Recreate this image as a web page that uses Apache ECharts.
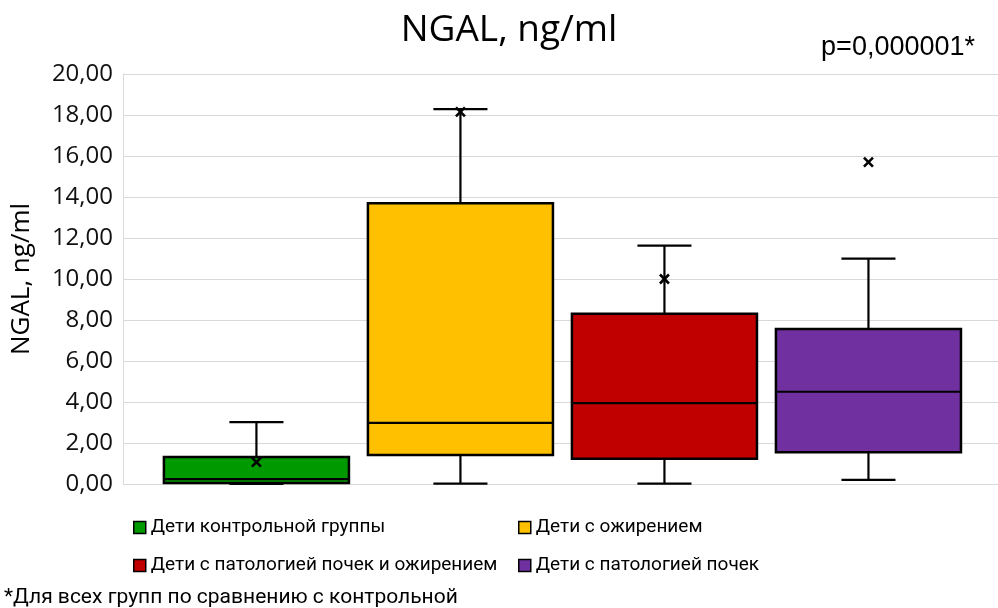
<!DOCTYPE html>
<html>
<head>
<meta charset="utf-8">
<script src="https://cdn.jsdelivr.net/npm/echarts@6/dist/echarts.min.js"></script>
<style>html,body{margin:0;padding:0;background:#fff;}#c{width:998px;height:608px;}</style>
</head>
<body>
<div id="c"></div>
<script>
// ---- data ----
var categories = ['Дети контрольной группы', 'Дети с ожирением', 'Дети с патологией почек и ожирением', 'Дети с патологией почек'];
var mins    = [0.00, 0.02, 0.02, 0.20];
var q1s     = [0.05, 1.41, 1.23, 1.55];
var medians = [0.24, 2.98, 3.95, 4.50];
var q3s     = [1.32, 13.70, 8.31, 7.56];
var maxs    = [3.02, 18.29, 11.63, 10.99];
var means   = [1.07, 18.15, 10.00, 15.70];
var colors  = ['#009900', '#FFC000', '#C00000', '#7030A0'];
var yTicks  = [0, 2, 4, 6, 8, 10, 12, 14, 16, 18, 20];
var titleText = 'NGAL, ng/ml';
var pText = 'p=0,000001*';
var noteText = '*Для всех групп по сравнению с контрольной';

var chart = echarts.init(document.getElementById('c'), null, {renderer: 'canvas'});

function renderBox(params, api) {
  var x = api.value(0);
  var vMin = api.value(1), vQ1 = api.value(2), vMed = api.value(3), vQ3 = api.value(4), vMax = api.value(5), vMean = api.value(6);
  var pMin = api.coord([x, vMin]);
  var pQ1 = api.coord([x, vQ1]);
  var pMed = api.coord([x, vMed]);
  var pQ3 = api.coord([x, vQ3]);
  var pMax = api.coord([x, vMax]);
  var pMean = api.coord([x, vMean]);
  var bw = api.size([0.907, 0])[0];
  var cw = api.size([0.265, 0])[0];
  var cx = pMed[0];
  var lineStyle = {stroke: '#000', lineWidth: 2.2};
  var m = 4.5;
  var color = api.visual('color');
  return {
    type: 'group',
    children: [
      {type: 'line', shape: {x1: cx, y1: pMax[1], x2: cx, y2: pQ3[1]}, style: lineStyle},
      {type: 'line', shape: {x1: cx, y1: pQ1[1], x2: cx, y2: pMin[1]}, style: lineStyle},
      {type: 'line', shape: {x1: cx - cw / 2, y1: pMax[1], x2: cx + cw / 2, y2: pMax[1]}, style: lineStyle},
      {type: 'line', shape: {x1: cx - cw / 2, y1: pMin[1], x2: cx + cw / 2, y2: pMin[1]}, style: lineStyle},
      {type: 'rect', shape: {x: cx - bw / 2, y: pQ3[1], width: bw, height: pQ1[1] - pQ3[1]},
        style: {fill: color, stroke: '#000', lineWidth: 2.5}},
      {type: 'line', shape: {x1: cx - bw / 2, y1: pMed[1], x2: cx + bw / 2, y2: pMed[1]}, style: lineStyle},
      {type: 'line', shape: {x1: pMean[0] - m, y1: pMean[1] - m, x2: pMean[0] + m, y2: pMean[1] + m}, style: {stroke: '#000', lineWidth: 2.6}},
      {type: 'line', shape: {x1: pMean[0] - m, y1: pMean[1] + m, x2: pMean[0] + m, y2: pMean[1] - m}, style: {stroke: '#000', lineWidth: 2.6}}
    ]
  };
}

var series = categories.map(function (name, i) {
  return {
    type: 'custom',
    name: name,
    renderItem: renderBox,
    itemStyle: {color: colors[i]},
    encode: {x: 0, y: [1, 2, 3, 4, 5, 6]},
    data: [[i, mins[i], q1s[i], medians[i], q3s[i], maxs[i], means[i]]],
    silent: true
  };
});

function legendItem(i) {
  return {name: categories[i], itemStyle: {color: colors[i], borderColor: '#000', borderWidth: 1.5}};
}
var legendText = {fontFamily: 'Roboto', fontSize: 19, color: '#000'};

chart.setOption({
  animation: false,
  backgroundColor: '#fff',
  grid: {left: 123, right: 0, top: 74, bottom: 124, containLabel: false, outerBoundsMode: 'none'},
  xAxis: {type: 'value', min: -0.654, max: 3.635, show: false},
  yAxis: {
    type: 'value', min: 0, max: 20, interval: 2,
    name: 'NGAL, ng/ml', nameLocation: 'middle', nameRotate: 90, nameGap: 88,
    nameTextStyle: {fontFamily: 'Open Sans', fontSize: 26, color: '#000'},
    axisLine: {show: true, onZero: false, lineStyle: {color: '#d9d9d9', width: 1}},
    axisTick: {show: false},
    axisLabel: {
      margin: 10, fontFamily: 'Open Sans', fontSize: 24, color: '#111',
      customValues: yTicks,
      formatter: function (v) { return v.toFixed(2).replace('.', ','); }
    },
    splitLine: {show: true, lineStyle: {color: '#d9d9d9', width: 1}}
  },
  legend: [
    {orient: 'vertical', left: 133, top: 518, padding: 0, itemGap: 19, itemWidth: 12, itemHeight: 12, icon: 'rect',
      textStyle: legendText, data: [legendItem(0), legendItem(2)], selectedMode: false},
    {orient: 'vertical', left: 518, top: 518, padding: 0, itemGap: 19, itemWidth: 12, itemHeight: 12, icon: 'rect',
      textStyle: legendText, data: [legendItem(1), legendItem(3)], selectedMode: false}
  ],
  graphic: [
    {type: 'text', x: 509, y: 30, style: {text: titleText, fontFamily: 'Open Sans', fontSize: 37, fill: '#000', textAlign: 'center', textVerticalAlign: 'middle'}},
    {type: 'text', x: 975, y: 48, style: {text: pText, fontFamily: 'Liberation Sans', fontSize: 27, fill: '#000', textAlign: 'right', textVerticalAlign: 'middle'}},
    {type: 'text', x: 4, y: 598, style: {text: noteText, fontFamily: 'Roboto', fontSize: 21, fill: '#000', textAlign: 'left', textVerticalAlign: 'middle'}}
  ],
  series: series
});
</script>
</body>
</html>
